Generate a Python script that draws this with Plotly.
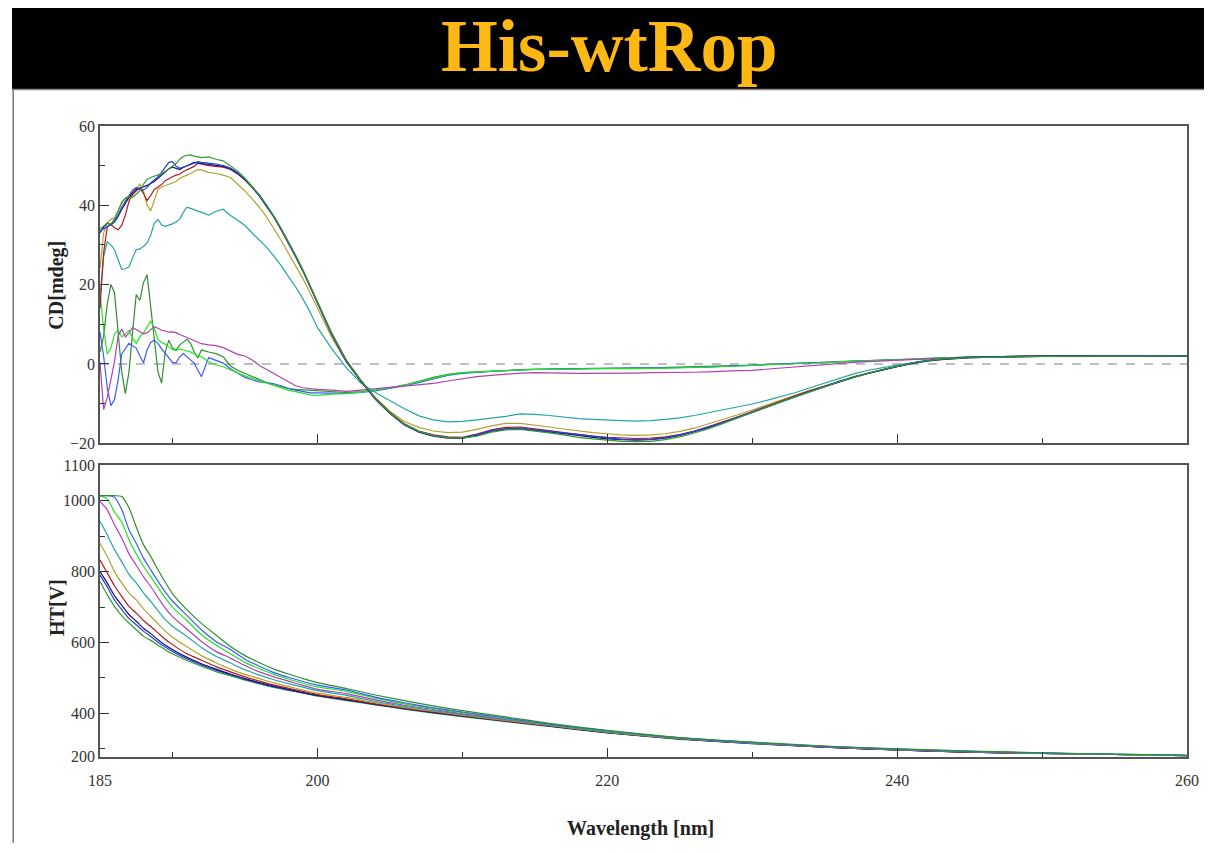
import plotly.graph_objects as go

# ---------------- data ----------------
# CD sampling grid (nm): 0.25 nm to 192, 0.5 nm to 200, 1 nm to 245, then coarse to 260
wl_cd = ([185 + 0.25 * i for i in range(29)] + [192.5 + 0.5 * i for i in range(16)]
         + list(range(201, 246)) + [250, 255, 260])

# HT sampling grid (nm)
wl_ht = ([185 + 0.5 * i for i in range(11)] + list(range(191, 201))
         + [202, 204, 206, 208, 210, 213, 216, 220, 225, 230, 235, 240, 245, 250, 255, 260])

colors = ["#2e9b2e", "#2b3fd6", "#141478", "#b01c1c", "#b3a12e",
          "#22a5a5", "#b042b0", "#1ee61e", "#3a5cff", "#2f8f2f"]

cd_1 = [34.0, 34.8, 35.5, 35.2, 36.5, 38.5, 40.8, 41.8, 42.3, 42.0,
        42.8, 43.6, 45.3, 46.5, 47.0, 47.3, 47.6, 48.0, 48.5, 49.2,
        49.8, 50.5, 51.6, 52.3, 52.6, 52.7, 52.4, 52.2, 52.0,
        52.2, 51.6, 51.2, 50.0, 48.6, 46.8, 44.8, 42.6, 40.0, 37.2, 34.0, 30.8, 27.3, 23.7, 19.6, 15.6,
        7.6, 0.8, -4.2, -8.7, -12.3, -15.2, -17.0, -18.0, -18.6, -18.7,
        -18.2, -17.2, -16.6, -16.5, -16.9, -17.4, -17.9, -18.5, -18.9, -19.2,
        -19.5, -19.6, -19.5, -19.1, -18.4, -17.4, -16.3, -15.0, -13.7, -12.3,
        -10.9, -9.5, -8.2, -6.9, -5.7, -4.5, -3.4, -2.4, -1.4, -0.6,
        0.2, 0.8, 1.2, 1.4, 1.6,
        1.9, 2.0, 2.0]
cd_2 = [33.5, 34.0, 34.6, 35.3, 36.0, 37.5, 39.5, 41.0, 42.5, 43.8,
        44.5, 44.0, 43.8, 44.5, 45.6, 46.3, 47.2, 48.3, 49.5, 50.8,
        51.0, 49.8, 49.3, 49.6, 50.0, 50.3, 50.6, 51.0, 50.8,
        50.6, 50.4, 50.0, 49.4, 48.2, 46.6, 44.6, 42.5, 39.9, 37.1, 33.9, 30.6, 27.1, 23.5, 19.5, 15.4,
        7.4, 0.7, -4.3, -8.8, -12.4, -15.3, -17.1, -18.1, -18.5, -18.6,
        -17.8, -16.8, -16.3, -16.2, -16.6, -17.0, -17.4, -17.9, -18.3, -18.7,
        -19.0, -19.1, -19.0, -18.6, -17.9, -17.0, -15.9, -14.7, -13.4, -12.1,
        -10.7, -9.4, -8.1, -6.8, -5.6, -4.4, -3.3, -2.3, -1.4, -0.6,
        0.2, 0.8, 1.2, 1.5, 1.7,
        2.0, 2.1, 2.1]
cd_3 = [33.0, 34.5, 35.5, 35.0, 35.8, 37.2, 39.0, 40.6, 42.0, 43.2,
        44.0, 44.3, 44.6, 45.0, 45.5, 46.0, 46.8, 47.6, 48.4, 49.2,
        49.6, 49.2, 49.0, 49.5, 50.0, 50.4, 50.8, 50.7, 50.5,
        50.3, 50.1, 49.8, 49.2, 48.0, 46.4, 44.5, 42.3, 39.8, 37.0, 33.8, 30.5, 27.0, 23.4, 19.4, 15.3,
        7.3, 0.6, -4.4, -8.9, -12.5, -15.4, -17.2, -18.2, -18.7, -18.7,
        -18.0, -17.0, -16.4, -16.3, -16.7, -17.1, -17.5, -18.0, -18.5, -18.9,
        -19.1, -19.2, -19.1, -18.7, -18.0, -17.1, -16.0, -14.8, -13.5, -12.2,
        -10.8, -9.5, -8.2, -6.9, -5.7, -4.5, -3.4, -2.4, -1.5, -0.7,
        0.1, 0.7, 1.1, 1.4, 1.6,
        2.0, 2.1, 2.0]
cd_4 = [14.0, 28.0, 34.5, 35.2, 34.3, 33.8, 35.0, 37.5, 41.0, 42.8,
        43.6, 44.4, 43.0, 41.2, 42.5, 44.0, 44.6, 45.2, 46.2, 46.8,
        47.2, 47.6, 47.8, 48.5, 48.9, 49.3, 49.8, 50.6, 50.4,
        50.0, 49.8, 49.6, 49.0, 47.9, 46.4, 44.6, 42.5, 40.0, 37.2, 34.1, 30.8, 27.3, 23.7, 19.7, 15.6,
        7.7, 0.9, -4.1, -8.6, -12.2, -15.1, -16.9, -17.9, -18.4, -18.5,
        -17.7, -16.6, -16.0, -15.9, -16.3, -16.8, -17.3, -17.8, -18.2, -18.5,
        -18.7, -18.8, -18.7, -18.4, -17.8, -16.9, -15.8, -14.6, -13.3, -12.0,
        -10.6, -9.3, -8.0, -6.8, -5.6, -4.4, -3.3, -2.3, -1.4, -0.6,
        0.2, 0.8, 1.2, 1.5, 1.7,
        2.0, 2.1, 2.1]
cd_5 = [24.0, 33.0, 35.5, 36.5, 36.8, 38.5, 40.5, 41.8, 42.0, 42.5,
        44.0, 45.3, 43.5, 40.0, 38.6, 41.5, 44.0, 44.6, 45.0, 45.4,
        45.6, 46.0, 46.8, 47.3, 47.6, 48.0, 48.6, 49.0, 48.9,
        48.3, 48.0, 47.6, 47.0, 45.4, 43.6, 41.6, 39.5, 37.0, 34.2, 31.1, 27.9, 24.8, 21.5, 17.9, 14.0,
        6.6, 0.4, -4.3, -8.5, -11.9, -14.5, -16.0, -16.9, -17.3, -17.2,
        -16.5, -15.6, -15.0, -15.0, -15.4, -15.9, -16.4, -16.9, -17.3, -17.6,
        -17.9, -18.0, -17.9, -17.6, -17.0, -16.2, -15.1, -14.0, -12.8, -11.6,
        -10.3, -9.0, -7.8, -6.6, -5.5, -4.3, -3.2, -2.3, -1.4, -0.6,
        0.1, 0.7, 1.1, 1.4, 1.6,
        1.9, 2.0, 2.0]
cd_6 = [17.0, 27.0, 30.8, 30.0, 28.8, 26.0, 23.8, 24.0, 24.5, 26.8,
        28.8, 29.0, 29.6, 30.5, 32.5, 35.5, 36.4, 35.0, 34.7, 35.0,
        35.3, 35.8, 36.5, 38.2, 39.5, 39.2, 38.8, 38.4, 38.2,
        37.5, 38.5, 39.0, 37.4, 36.2, 34.9, 33.0, 31.2, 29.4, 27.2, 24.8, 22.0, 19.4, 16.4, 13.0, 9.2,
        3.8, -1.0, -4.8, -7.2, -9.3, -11.3, -13.1, -14.1, -14.6, -14.5,
        -14.1, -13.7, -13.2, -12.6, -12.7, -13.0, -13.4, -13.8, -14.0, -14.2,
        -14.3, -14.4, -14.3, -14.0, -13.6, -13.0, -12.3, -11.5, -10.8, -10.1,
        -9.2, -8.2, -7.2, -6.0, -4.8, -3.6, -2.5, -1.6, -0.9, -0.3,
        0.3, 0.9, 1.2, 1.5, 1.7,
        2.0, 2.1, 2.1]
cd_7 = [0.5, -11.5, -8.5, -4.0, 0.5, 7.0, 8.8, 6.8, 7.8, 9.2,
        8.6, 8.0, 7.6, 7.9, 8.6, 9.4, 9.0, 8.5, 8.3, 8.0,
        8.1, 7.9, 7.4, 7.0, 6.8, 6.3, 5.8, 5.5, 5.1,
        4.8, 4.6, 4.1, 3.2, 2.4, 2.0, 1.0, -0.4, -1.4, -2.5, -3.6, -4.6, -5.5, -6.0, -6.2, -6.4,
        -6.6, -6.9, -6.6, -6.2, -5.9, -5.6, -5.3, -4.9, -4.3, -3.7,
        -3.2, -2.9, -2.6, -2.3, -2.2, -2.2, -2.3, -2.4, -2.4, -2.3,
        -2.3, -2.3, -2.2, -2.2, -2.1, -2.1, -2.0, -1.8, -1.7, -1.6,
        -1.3, -1.0, -0.7, -0.4, -0.1, 0.2, 0.4, 0.6, 0.8, 1.0,
        1.2, 1.3, 1.4, 1.5, 1.6,
        1.9, 2.0, 2.0]
cd_8 = [18.0, 9.0, 2.5, 4.0, 7.5, 8.6, 6.8, 7.5, 8.5, 6.5,
        5.2, 6.8, 7.8, 9.2, 10.8, 9.0, 6.2, 5.4, 5.0, 4.3,
        3.6, 3.4, 3.8, 3.5, 3.3, 3.0, 2.5, 2.1, 1.8,
        0.5, -0.2, -0.7, -1.5, -2.3, -3.0, -3.6, -4.2, -4.8, -5.5, -6.0, -6.6, -7.0, -7.4, -7.8, -7.9,
        -7.6, -7.5, -7.1, -6.7, -6.0, -5.4, -4.5, -3.6, -2.7, -2.2,
        -2.0, -1.8, -1.6, -1.5, -1.4, -1.4, -1.3, -1.3, -1.2, -1.2,
        -1.3, -1.2, -1.1, -1.1, -1.0, -0.9, -0.8, -0.6, -0.5, -0.4,
        -0.2, -0.1, 0.1, 0.2, 0.3, 0.5, 0.6, 0.8, 0.9, 1.0,
        1.2, 1.3, 1.4, 1.5, 1.7,
        1.9, 2.0, 2.0]
cd_9 = [8.0, 2.0, -6.0, -10.5, -9.0, -4.0, 2.5, 4.0, 5.2, 4.6,
        4.0, 2.0, 0.3, 3.5, 5.4, 6.0, 5.2, 3.8, 2.6, 1.4,
        0.4, 0.3, 1.8, 2.6, 1.8, 0.9, 0.2, -1.6, -3.2,
        1.6, 1.0, 0.2, -1.2, -2.4, -3.4, -4.0, -4.5, -4.7, -5.0, -5.5, -6.2, -6.6, -7.0, -7.3, -7.3,
        -7.4, -7.4, -7.2, -6.8, -6.2, -5.5, -4.7, -3.8, -2.9, -2.4,
        -2.1, -1.9, -1.7, -1.5, -1.4, -1.3, -1.3, -1.2, -1.2, -1.1,
        -1.1, -1.1, -1.0, -1.0, -0.9, -0.9, -0.8, -0.6, -0.5, -0.3,
        -0.2, 0.0, 0.1, 0.2, 0.4, 0.5, 0.7, 0.8, 0.9, 1.1,
        1.2, 1.3, 1.5, 1.6, 1.7,
        2.0, 2.1, 2.0]
cd_10 = [3.0, 7.0, 15.0, 20.0, 18.0, 8.0, -2.0, -7.5, -2.0, 8.0,
         17.5, 16.0, 20.5, 22.5, 14.0, 5.0, -2.0, -4.8, 3.0, 6.0,
         4.0, 3.5, 4.8, 5.5, 6.2, 5.2, 3.0, 1.5, 3.5,
         3.0, 2.6, 1.8, -0.5, -1.6, -2.4, -3.0, -3.8, -4.7, -5.3, -5.7, -6.2, -6.4, -6.5, -6.6, -6.8,
         -7.0, -7.2, -7.0, -6.6, -6.0, -5.3, -4.4, -3.4, -2.6, -2.2,
         -2.0, -1.8, -1.6, -1.4, -1.3, -1.3, -1.2, -1.2, -1.1, -1.1,
         -1.0, -1.0, -1.0, -0.9, -0.9, -0.8, -0.7, -0.6, -0.4, -0.3,
         -0.1, 0.0, 0.2, 0.3, 0.4, 0.6, 0.7, 0.9, 1.0, 1.1,
         1.2, 1.4, 1.5, 1.6, 1.7,
         2.0, 2.0, 2.0]

ht_1 = [772, 735, 702, 676, 655, 636, 618, 606, 592, 580, 568,
        549, 533, 518, 506, 494, 483, 473, 465, 457, 449,
        436, 424, 412, 401, 391, 377, 363, 345, 327, 315, 305, 297, 291, 287, 284, 281]
ht_2 = [790, 757, 720, 693, 668, 650, 632, 617, 601, 587, 575,
        554, 537, 522, 509, 496, 485, 475, 466, 458, 450,
        438, 425, 413, 402, 392, 378, 364, 346, 328, 315, 305, 297, 291, 287, 284, 281]
ht_3 = [800, 768, 732, 705, 679, 660, 640, 625, 608, 593, 580,
        558, 540, 525, 511, 498, 487, 477, 468, 459, 451,
        439, 426, 414, 403, 393, 379, 365, 346, 328, 316, 305, 297, 291, 287, 284, 281]
ht_4 = [833, 796, 760, 730, 702, 683, 662, 645, 627, 609, 594,
        568, 550, 532, 517, 503, 491, 480, 471, 462, 453,
        441, 427, 415, 404, 394, 379, 365, 347, 329, 316, 305, 297, 291, 287, 284, 281]
ht_5 = [880, 843, 800, 768, 740, 720, 695, 674, 653, 632, 615,
        588, 563, 543, 525, 510, 498, 486, 476, 466, 457,
        445, 430, 417, 406, 395, 380, 366, 347, 329, 316, 306, 298, 292, 287, 284, 281]
ht_6 = [942, 904, 862, 828, 792, 768, 740, 716, 690, 665, 646,
        617, 586, 561, 542, 523, 508, 495, 484, 474, 464,
        451, 434, 420, 408, 397, 382, 367, 348, 330, 317, 306, 298, 292, 288, 284, 281]
ht_7 = [998, 974, 932, 895, 850, 818, 785, 758, 727, 697, 673,
        638, 603, 575, 556, 535, 517, 503, 491, 479, 468,
        456, 438, 423, 411, 399, 383, 368, 349, 330, 317, 306, 298, 292, 288, 284, 281]
ht_8 = [1014, 1005, 968, 940, 890, 850, 815, 786, 755, 726, 700,
        662, 622, 593, 568, 544, 526, 510, 497, 485, 475,
        462, 443, 427, 414, 402, 385, 369, 350, 331, 318, 307, 299, 293, 288, 284, 281]
ht_9 = [1014, 1014, 1010, 975, 918, 880, 838, 805, 773, 743, 717,
        676, 636, 603, 580, 553, 533, 515, 502, 490, 480,
        466, 446, 430, 416, 404, 387, 370, 351, 331, 318, 307, 299, 293, 288, 285, 282]
ht_10 = [1014, 1014, 1014, 1012, 980, 926, 876, 843, 805, 770, 738,
         692, 654, 621, 589, 563, 543, 525, 511, 498, 487,
         470, 452, 436, 421, 408, 390, 372, 352, 332, 319, 308, 300, 294, 289, 285, 282]

cd_series = [cd_1, cd_2, cd_3, cd_4, cd_5, cd_6, cd_7, cd_8, cd_9, cd_10]
ht_series = [ht_1, ht_2, ht_3, ht_4, ht_5, ht_6, ht_7, ht_8, ht_9, ht_10]
for s in cd_series:
    assert len(s) == len(wl_cd), len(s)
for s in ht_series:
    assert len(s) == len(wl_ht), len(s)

x_ticks = [185, 200, 220, 240, 260]
x_minor = [190, 210, 230, 250]
cd_ticks = [-20, 0, 20, 40, 60]
cd_minor = [-10, 10, 30, 50]
ht_ticks = [278, 400, 600, 800, 1000, 1100]
ht_ticktext = ["200", "400", "600", "800", "1000", "1100"]
ht_minor = [300, 500, 700, 900]

# ---------------- figure ----------------
W, H = 1216, 852
SCALE = 0.982          # page-to-screen factor of the viewer
BODY = 8               # default body margin of the html page


def px(x):
    """screen x (pixels) -> paper fraction"""
    return ((x - 2) / SCALE - BODY) / W


def py(y):
    """screen y (pixels, from top) -> paper fraction"""
    return 1 - ((y + 1) / SCALE - BODY) / H


fig = go.Figure()

# draw the low-HT (folded) spectra last so they sit on top
for i in reversed(range(10)):
    fig.add_trace(go.Scatter(x=wl_cd, y=cd_series[i], mode="lines", xaxis="x", yaxis="y",
                             line=dict(color=colors[i], width=1.2), showlegend=False,
                             hoverinfo="skip"))
for i in range(10):
    fig.add_trace(go.Scatter(x=wl_ht, y=ht_series[i], mode="lines", xaxis="x2", yaxis="y2",
                             line=dict(color=colors[i], width=1.2, shape="spline", smoothing=0.6),
                             showlegend=False, hoverinfo="skip"))

tick_font = dict(family="Liberation Serif", size=16, color="#333333")
axis_common = dict(showline=True, linecolor="#555555", linewidth=1.6, mirror=True,
                   showgrid=False, zeroline=False, ticks="inside", ticklen=9,
                   tickwidth=1.3, tickcolor="#333333", tickfont=tick_font)
minor_style = dict(ticks="inside", ticklen=5, tickwidth=1.2, tickcolor="#333333")

x_dom = [px(98), px(1187)]
fig.update_layout(
    width=W, height=H,
    margin=dict(l=0, r=0, t=0, b=0),
    paper_bgcolor="white", plot_bgcolor="white",
    xaxis=dict(domain=x_dom, anchor="y", range=[185, 260], tickmode="array",
               tickvals=x_ticks, showticklabels=False,
               minor=dict(tickmode="array", tickvals=x_minor, **minor_style),
               **axis_common),
    yaxis=dict(domain=[py(443), py(125)], anchor="x", range=[-20, 60], tickmode="array",
               tickvals=cd_ticks,
               minor=dict(tickmode="array", tickvals=cd_minor, **minor_style),
               **axis_common),
    xaxis2=dict(domain=x_dom, anchor="y2", range=[185, 260], tickmode="array",
                tickvals=x_ticks, ticklabelstandoff=8,
                minor=dict(tickmode="array", tickvals=x_minor, **minor_style),
                **axis_common),
    yaxis2=dict(domain=[py(757), py(465)], anchor="x2", range=[278, 1100], tickmode="array",
                tickvals=ht_ticks, ticktext=ht_ticktext,
                minor=dict(tickmode="array", tickvals=ht_minor, **minor_style),
                **axis_common),
)

shapes = [
    # title band
    dict(type="rect", xref="paper", yref="paper", x0=0, x1=1, y0=py(88), y1=1,
         fillcolor="black", line=dict(width=0), layer="below"),
    dict(type="line", xref="paper", yref="paper", x0=0, x1=1, y0=py(88.5), y1=py(88.5),
         line=dict(color="#888888", width=1.5)),
    # left frame edge
    dict(type="line", xref="paper", yref="paper", x0=0.001, x1=0.001, y0=0, y1=py(88),
         line=dict(color="#777777", width=1.5)),
    # zero baseline of the CD panel
    dict(type="line", xref="x", yref="y", x0=185, x1=260, y0=0, y1=0,
         line=dict(color="#aaaaaa", width=1.5, dash="dash"), layer="below"),
]
fig.update_layout(shapes=shapes)

label_font = dict(family="Liberation Serif", size=20, color="#222222")
fig.update_layout(annotations=[
    dict(text="<b>His-wtRop</b>", xref="paper", yref="paper", x=px(608), y=py(45),
         xanchor="center", yanchor="middle", showarrow=False,
         font=dict(family="Liberation Serif", size=73, color="#FDB813")),
    dict(text="<b>CD[mdeg]</b>", xref="paper", yref="paper", x=px(55), y=py(285),
         xanchor="center", yanchor="middle", textangle=-90, showarrow=False, font=label_font),
    dict(text="<b>HT[V]</b>", xref="paper", yref="paper", x=px(55), y=py(608),
         xanchor="center", yanchor="middle", textangle=-90, showarrow=False, font=label_font),
    dict(text="<b>Wavelength [nm]</b>", xref="paper", yref="paper", x=px(639), y=py(829),
         xanchor="center", yanchor="middle", showarrow=False, font=label_font),
])

fig.write_html("out.html")
